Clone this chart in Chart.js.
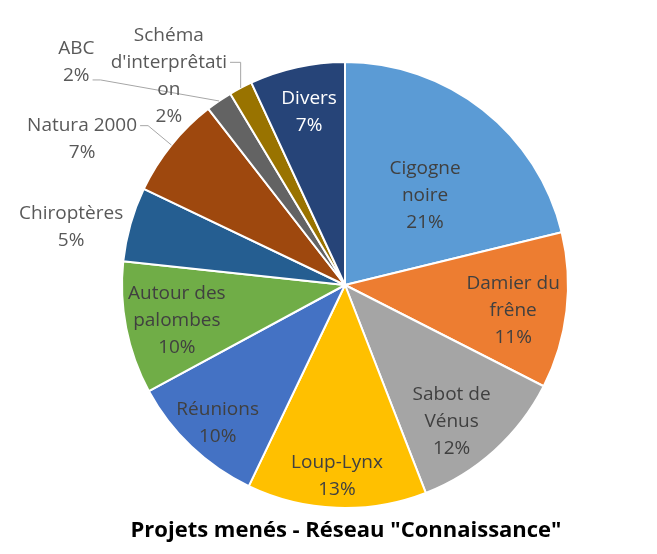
<!DOCTYPE html>
<html>
<head>
<meta charset="utf-8">
<script src="https://cdn.jsdelivr.net/npm/chart.js@4"></script>
<style>
  html, body { margin: 0; padding: 0; background: #fff; }
  #wrap { width: 657px; height: 554px; }
</style>
</head>
<body>
<div id="wrap"><canvas id="pie"></canvas></div>
<script>
const PROJECTS = ['Cigogne noire', 'Damier du frêne', 'Sabot de Vénus', 'Loup-Lynx', 'Réunions',
  'Autour des palombes', 'Chiroptères', 'Natura 2000', 'ABC', "Schéma d'interprêtation", 'Divers'];
// shares in % (labels show them rounded)
const SHARES = [21.2, 11.3, 11.6, 13.0, 10.0, 9.6, 5.4, 7.4, 1.9, 1.7, 6.9];
const SLICE_COLORS = ['#5b9bd5', '#ed7d31', '#a5a5a5', '#ffc000', '#4472c4',
  '#70ad47', '#255e91', '#9e480e', '#636363', '#997300', '#264478'];
const TITLE = 'Projets menés - Réseau "Connaissance"';

// how each label wraps, as in the original
const LABEL_LINES = [
  ['Cigogne', 'noire'], ['Damier du', 'frêne'], ['Sabot de', 'Vénus'], ['Loup-Lynx'], ['Réunions'],
  ['Autour des', 'palombes'], ['Chiroptères'], ['Natura 2000'], ['ABC'],
  ['Schéma', "d'interprêtati", 'on'], ['Divers']
];

// label block centre, in radius units from the pie centre; leader = line to start the leader from
const PLACE = [
  { dx: 0.359, dy: -0.402 },
  { dx: 0.754, dy: 0.116 },
  { dx: 0.478, dy: 0.614 },
  { dx: -0.036, dy: 0.855 },
  { dx: -0.571, dy: 0.618 },
  { dx: -0.754, dy: 0.161 },
  { dx: -1.228, dy: -0.261, outside: true },
  { dx: -1.179, dy: -0.654, outside: true, leader: 0 },
  { dx: -1.205, dy: -0.998, outside: true, leader: 1, drop: 4 },
  { dx: -0.79, dy: -0.938, outside: true, leader: 1, vertical: true },
  { dx: -0.161, dy: -0.775, color: '#ffffff' }
];

const FONT = "'Open Sans', sans-serif";
const LINE_H = 27;

const labelPlugin = {
  id: 'sliceLabels',
  afterDatasetsDraw(chart) {
    const ctx = chart.ctx;
    const arcs = chart.getDatasetMeta(0).data;
    ctx.save();
    ctx.font = '19px ' + FONT;
    ctx.textAlign = 'center';
    ctx.textBaseline = 'middle';
    arcs.forEach((arc, i) => {
      const p = PLACE[i];
      const mid = (arc.startAngle + arc.endAngle) / 2;
      const cx = arc.x + p.dx * arc.outerRadius;
      const cy = arc.y + p.dy * arc.outerRadius;
      const lines = LABEL_LINES[i].concat([Math.round(SHARES[i]) + '%']);
      const top = cy - (lines.length - 1) * LINE_H / 2;
      ctx.fillStyle = p.color || (p.outside ? '#595959' : '#404040');
      lines.forEach((t, k) => ctx.fillText(t, cx, top + k * LINE_H));

      if (p.leader !== undefined) {
        const w = ctx.measureText(lines[p.leader]).width;
        const sx = cx + w / 2 + 3;
        const sy = top + p.leader * LINE_H + (p.drop || 0);
        const ex = arc.x + Math.cos(mid) * arc.outerRadius;
        const ey = arc.y + Math.sin(mid) * arc.outerRadius;
        ctx.strokeStyle = '#a6a6a6';
        ctx.lineWidth = 1;
        ctx.beginPath();
        ctx.moveTo(sx, sy);
        if (p.vertical) {
          ctx.lineTo(ex, sy);
        } else {
          ctx.lineTo(sx + 8, sy);
        }
        ctx.lineTo(ex, ey);
        ctx.stroke();
      }
    });

    ctx.fillStyle = '#000';
    ctx.font = 'bold 22px ' + FONT;
    ctx.fillText(TITLE, 346, 531);
    ctx.restore();
  }
};

new Chart(document.getElementById('pie'), {
  type: 'pie',
  data: {
    labels: PROJECTS,
    datasets: [{
      data: SHARES,
      backgroundColor: SLICE_COLORS,
      borderColor: '#ffffff',
      borderWidth: 2,
    }]
  },
  options: {
    responsive: true,
    maintainAspectRatio: false,
    animation: false,
    layout: { padding: { left: 121, top: 61, right: 88, bottom: 45 } },
    plugins: {
      legend: { display: false },
      tooltip: { enabled: false },
      title: { display: false },
    }
  },
  plugins: [labelPlugin]
});
</script>
</body>
</html>
